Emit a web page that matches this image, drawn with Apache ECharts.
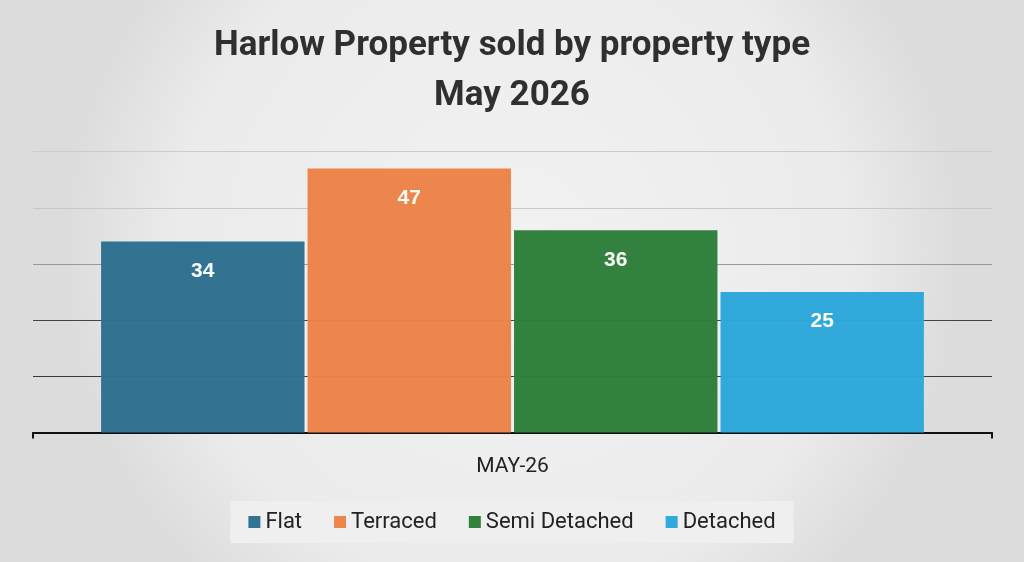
<!DOCTYPE html>
<html>
<head>
<meta charset="utf-8">
<script src="https://cdn.jsdelivr.net/npm/echarts@6/dist/echarts.min.js"></script>
<style>
html,body{margin:0;padding:0;width:1024px;height:562px;overflow:hidden;}
#main{width:1024px;height:562px;}
</style>
</head>
<body>
<div id="main"></div>
<script>
const categories = ['MAY-26'];
const seriesNames = ['Flat', 'Terraced', 'Semi Detached', 'Detached'];
const flatValues = [34];
const terracedValues = [47];
const semiDetachedValues = [36];
const detachedValues = [25];
const seriesValues = [flatValues, terracedValues, semiDetachedValues, detachedValues];
const seriesColors = ['#2f7090', '#ec8449', '#2f7e3b', '#2ea7da'];

const chart = echarts.init(document.getElementById('main'));
chart.setOption({
  backgroundColor: {
    type: 'radial', x: 0.5, y: 0.45, r: 0.8,
    colorStops: [
      { offset: 0, color: '#f2f2f2' },
      { offset: 0.75, color: '#ebebeb' },
      { offset: 1, color: '#dcdcdc' }
    ]
  },
  title: {
    text: 'Harlow Property sold by property type\nMay 2026',
    left: 'center',
    top: 16,
    textStyle: {
      fontFamily: 'Roboto',
      fontWeight: 'bold',
      fontSize: 35,
      lineHeight: 50,
      color: '#2f2f2f'
    }
  },
  legend: {
    data: seriesNames,
    bottom: 19,
    left: 'center',
    itemWidth: 12,
    itemHeight: 12,
    itemGap: 32,
    icon: 'rect',
    backgroundColor: '#efefef',
    padding: [10, 18],
    textStyle: { fontFamily: 'Roboto', fontSize: 22, color: '#222222' }
  },
  grid: { left: 33, right: 32, top: 151.7, bottom: 129.5, containLabel: false },
  xAxis: {
    type: 'category',
    data: categories,
    axisLine: { show: true, lineStyle: { color: '#111111', width: 2 } },
    axisTick: { show: true, alignWithLabel: false, length: 6, lineStyle: { color: '#111111', width: 2 } },
    axisLabel: { fontFamily: 'Roboto', fontSize: 21, color: '#222222', margin: 24 }
  },
  yAxis: {
    type: 'value',
    min: 0,
    max: 50,
    interval: 10,
    axisLabel: { show: false },
    axisLine: { show: false },
    axisTick: { show: false },
    splitLine: {
      show: true,
      lineStyle: { color: ['#333333', '#3a3a3a', '#444444', '#999999', '#c8c8c8', '#cccccc'], width: 1.2 }
    }
  },
  series: seriesValues.map((vals, i) => ({
    name: seriesNames[i],
    type: 'bar',
    data: vals,
    barCategoryGap: '14.2%',
    barGap: '1.5%',
    itemStyle: { color: seriesColors[i], opacity: 0.98 },
    label: {
      show: true,
      position: 'insideTop',
      distance: 19,
      fontFamily: 'Liberation Sans',
      fontWeight: 'bold',
      fontSize: 21,
      color: '#ffffff'
    }
  }))
});
</script>
</body>
</html>
